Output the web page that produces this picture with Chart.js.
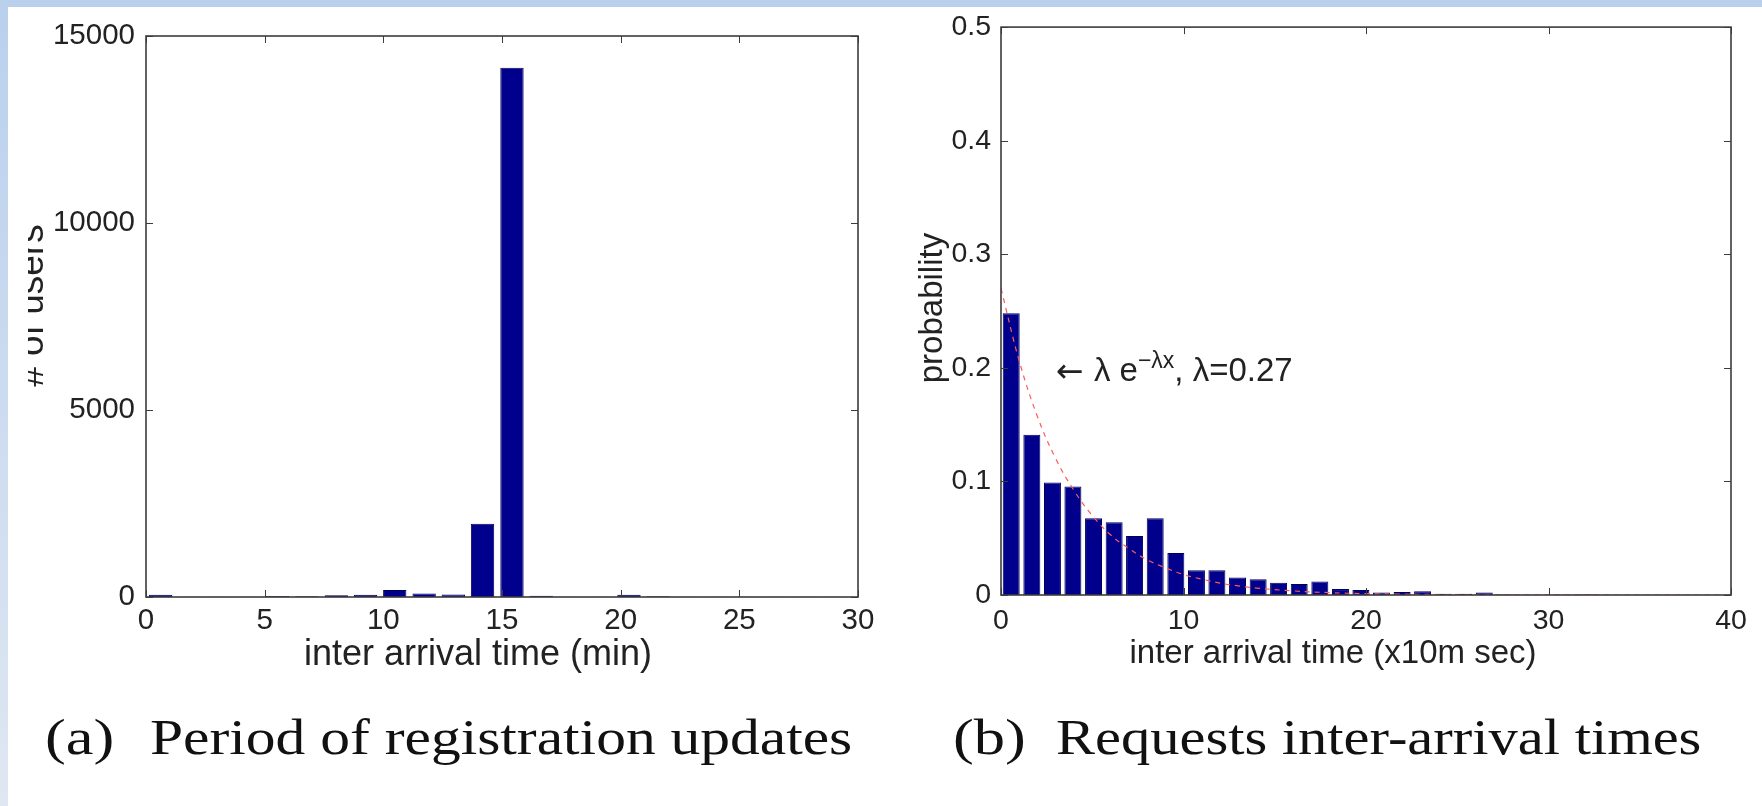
<!DOCTYPE html>
<html><head><meta charset="utf-8">
<script src="https://cdn.jsdelivr.net/npm/chart.js@4.4.1/dist/chart.umd.min.js"></script>
<style>
html,body{margin:0;padding:0;background:#fff;width:1762px;height:806px;overflow:hidden;position:relative}
#topband{position:absolute;left:0;top:0;width:1762px;height:7px;background:#b9d0ed;z-index:5}
#leftband{position:absolute;left:0;top:0;width:8px;height:806px;background:linear-gradient(#b9d0ed,#dfe7f2);z-index:5}
#c1wrap{position:absolute;left:28px;top:0;width:872px;height:690px}
#c2wrap{position:absolute;left:900px;top:0;width:862px;height:690px}
.cap{position:absolute;top:712px;font-family:"Liberation Serif","DejaVu Serif",serif;font-size:50px;color:#111;white-space:nowrap;transform-origin:0 0;line-height:1}
</style></head>
<body>
<div id="topband"></div><div id="leftband"></div>
<div id="c1wrap"><canvas id="c1" width="872" height="690"></canvas></div>
<div id="c2wrap"><canvas id="c2" width="862" height="690"></canvas></div>
<div class="cap" style="left:45px;transform:scaleX(1.25)">(a)</div>
<div class="cap" style="left:150px;transform:scaleX(1.19)">Period of registration updates</div>
<div class="cap" style="left:953px;transform:scaleX(1.25)">(b)</div>
<div class="cap" style="left:1056px;transform:scaleX(1.17)">Requests inter-arrival times</div>
<script>
// ---------- data: (a) period of registration updates ----------
const regBinCenters = [0.62,1.85,3.08,4.32,5.55,6.78,8.02,9.25,10.48,11.72,12.95,14.18,15.42,16.65,17.88,19.12,20.35,21.58,22.82,24.05,25.28,26.52,27.75,28.98];
const regUserCounts = [60,8,4,6,28,18,50,60,190,95,70,1960,14150,35,5,5,60,18,6,4,4,4,4,4];
const regXTicks = [0,5,10,15,20,25,30];
const regYTicks = [0,5000,10000,15000];

// ---------- data: (b) requests inter-arrival times ----------
const iatBinCenters = [0.56,1.69,2.82,3.94,5.07,6.20,7.32,8.45,9.58,10.71,11.83,12.96,14.09,15.21,16.34,17.47,18.60,19.72,20.85,21.98,23.10,24.23,25.36,26.48,27.61,28.74,29.86,30.99,32.12,33.25,34.37,35.50,36.63,37.76,38.88];
const iatProbability = [0.248,0.141,0.099,0.0955,0.0675,0.064,0.052,0.0675,0.037,0.0217,0.0217,0.0154,0.0139,0.0107,0.0096,0.0119,0.0052,0.0043,0.0023,0.0026,0.0032,0.0012,0.0010,0.0022,0.0004,0.0003,0.0002,0.0002,0.0004,0.0001,0.0001,0.0001,0.0001,0.0001,0.0001];
const fitCurveX = [0,1,2,3,4,5,6,7,8,9,10,11,12,13,14,16,18,20,25,30,35,40];
const fitCurveY = [0.27,0.206,0.157,0.12,0.092,0.070,0.053,0.041,0.031,0.024,0.018,0.014,0.0105,0.008,0.0061,0.0036,0.0021,0.0012,0.0003,0.0001,0,0];
const iatXTicks = [0,10,20,30,40];
const iatYTicks = [0,0.1,0.2,0.3,0.4,0.5];

Chart.defaults.font.family = '"Liberation Sans", Arial, sans-serif';
Chart.defaults.color = '#222';

const BAR_FILL = '#00008c', BAR_EDGE = '#000058';

const framePlugin = {
  id: 'frame',
  afterDatasetsDraw(chart) {
    const {ctx, chartArea: a, scales: {x, y}} = chart;
    ctx.save();
    ctx.strokeStyle = '#3c3c3c';
    ctx.lineWidth = 1;
    const L = 7;
    ctx.beginPath();
    x.ticks.forEach(t => {
      const px = Math.round(x.getPixelForValue(t.value)) + 0.5;
      ctx.moveTo(px, a.bottom); ctx.lineTo(px, a.bottom - L);
      ctx.moveTo(px, a.top); ctx.lineTo(px, a.top + L);
    });
    y.ticks.forEach(t => {
      const py = Math.round(y.getPixelForValue(t.value)) + 0.5;
      ctx.moveTo(a.left, py); ctx.lineTo(a.left + L, py);
      ctx.moveTo(a.right, py); ctx.lineTo(a.right - L, py);
    });
    ctx.stroke();
    ctx.lineWidth = 1.6;
    ctx.strokeRect(a.left, a.top, a.right - a.left, a.bottom - a.top);
    ctx.restore();
  },
  afterDraw(chart) {
    const o = chart.options.plugins.frame || {};
    const {ctx, chartArea: a} = chart;
    ctx.save();
    ctx.fillStyle = '#222';
    if (o.xTitle) {
      ctx.font = o.xTitleFont;
      ctx.textAlign = 'center'; ctx.textBaseline = 'alphabetic';
      ctx.fillText(o.xTitle, (a.left + a.right) / 2 + o.xTitleDx, a.bottom + o.xTitleDy);
    }
    if (o.yTitle) {
      ctx.save();
      ctx.font = o.yTitleFont;
      ctx.translate(o.yTitleX, (a.top + a.bottom) / 2 + o.yTitleDy);
      ctx.rotate(-Math.PI / 2);
      ctx.textAlign = 'center'; ctx.textBaseline = 'alphabetic';
      ctx.fillText(o.yTitle, 0, 0);
      ctx.restore();
    }
    if (o.note) {
      const {x, y} = chart.scales;
      let px = x.getPixelForValue(o.note.x), py = y.getPixelForValue(o.note.y);
      ctx.textAlign = 'left'; ctx.textBaseline = 'alphabetic';
      ctx.font = o.note.arrowFont;
      ctx.fillText(o.note.arrow, px, py + 1); px += ctx.measureText(o.note.arrow).width;
      ctx.font = o.note.font;
      ctx.fillText(o.note.pre, px, py); px += ctx.measureText(o.note.pre).width;
      ctx.font = o.note.supFont;
      ctx.fillText(o.note.sup, px, py - o.note.supRise); px += ctx.measureText(o.note.sup).width;
      ctx.font = o.note.font;
      ctx.fillText(o.note.post, px, py);
    }
    ctx.restore();
  }
};

function fixedTicks(arr) {
  return scale => { scale.ticks = arr.map(v => ({value: v})); };
}

new Chart(document.getElementById('c1'), {
  type: 'bar',
  data: {
    datasets: [{
      data: regBinCenters.map((c, i) => ({x: c, y: regUserCounts[i]})),
      backgroundColor: BAR_FILL, borderColor: BAR_EDGE, borderWidth: 1,
      barPercentage: 0.8, categoryPercentage: 1.0
    }]
  },
  options: {
    responsive: false, animation: false, devicePixelRatio: 1,
    layout: {padding: {top: 36, right: 42, left: 0, bottom: 0}},
    plugins: {
      legend: {display: false}, tooltip: {enabled: false},
      frame: {
        xTitleFont: '36px "Liberation Sans", Arial, sans-serif',
        yTitleFont: '37px "Liberation Sans", Arial, sans-serif',
        xTitle: 'inter arrival time (min)', xTitleDx: -24, xTitleDy: 68,
        yTitle: '# of users', yTitleX: 15, yTitleDy: -11
      }
    },
    scales: {
      x: {
        type: 'linear', min: 0, max: 30, offset: false,
        afterBuildTicks: fixedTicks(regXTicks),
        afterFit: s => { s.height = 93; },
        grid: {display: false, drawTicks: false}, border: {display: false},
        ticks: {font: {size: 29.5}, padding: 6, maxRotation: 0, autoSkip: false, callback: v => String(v)}
      },
      y: {
        type: 'linear', min: 0, max: 15000,
        afterBuildTicks: fixedTicks(regYTicks),
        afterFit: s => { s.width = 118; },
        grid: {display: false, drawTicks: false}, border: {display: false},
        ticks: {font: {size: 29.5}, padding: 11, callback: v => String(v)}
      }
    }
  },
  plugins: [framePlugin]
});

new Chart(document.getElementById('c2'), {
  type: 'bar',
  data: {
    datasets: [{
      type: 'line',
      data: fitCurveX.map((v, i) => ({x: v, y: fitCurveY[i]})),
      borderColor: '#ff5a5a', borderWidth: 1.2, borderDash: [5, 5],
      pointRadius: 0, tension: 0.4, fill: false, order: 1
    }, {
      type: 'bar',
      data: iatBinCenters.map((c, i) => ({x: c, y: iatProbability[i]})),
      backgroundColor: BAR_FILL, borderColor: BAR_EDGE, borderWidth: 1,
      barPercentage: 0.83, categoryPercentage: 1.0, order: 2
    }]
  },
  options: {
    responsive: false, animation: false, devicePixelRatio: 1,
    layout: {padding: {top: 21, right: 31, left: 0, bottom: 0}},
    plugins: {
      legend: {display: false}, tooltip: {enabled: false},
      frame: {
        xTitleFont: '33px "Liberation Sans", Arial, sans-serif',
        yTitleFont: '33px "Liberation Sans", Arial, sans-serif',
        xTitle: 'inter arrival time (x10m sec)', xTitleDx: -33, xTitleDy: 68,
        yTitle: 'probability', yTitleX: 42, yTitleDy: -3,
        note: {
          x: 3.0, y: 0.188,
          arrowFont: '33px "DejaVu Sans", sans-serif',
          arrow: '\u2190 ',
          font: '33px "Liberation Sans", "DejaVu Sans", sans-serif',
          supFont: '23px "Liberation Sans", "DejaVu Sans", sans-serif',
          pre: '\u03bb e', sup: '\u2212\u03bbx', post: ', \u03bb=0.27', supRise: 13
        }
      }
    },
    scales: {
      x: {
        type: 'linear', min: 0, max: 40, offset: false,
        afterBuildTicks: fixedTicks(iatXTicks),
        afterFit: s => { s.height = 95; },
        grid: {display: false, drawTicks: false}, border: {display: false},
        ticks: {font: {size: 28.5}, padding: 9, maxRotation: 0, autoSkip: false, callback: v => String(v)}
      },
      y: {
        type: 'linear', min: 0, max: 0.5,
        afterBuildTicks: fixedTicks(iatYTicks),
        afterFit: s => { s.width = 101; },
        grid: {display: false, drawTicks: false}, border: {display: false},
        ticks: {font: {size: 28.5}, padding: 10, callback: v => String(v)}
      }
    }
  },
  plugins: [framePlugin]
});
</script>
</body></html>
